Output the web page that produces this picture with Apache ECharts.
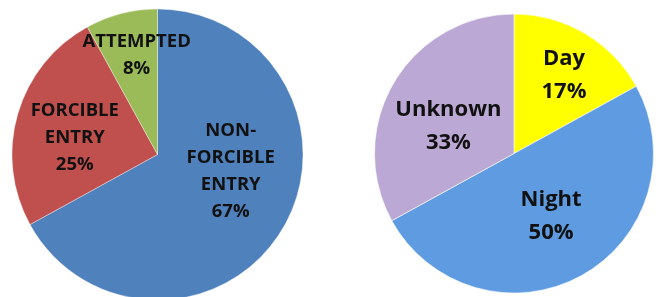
<!DOCTYPE html>
<html>
<head>
<meta charset="utf-8">
<script src="https://cdn.jsdelivr.net/npm/echarts@6/dist/echarts.min.js"></script>
<style>
  html, body { margin: 0; padding: 0; background: #fff; }
  #chart { width: 660px; height: 297px; }
</style>
</head>
<body>
<div id="chart"></div>
<script>
// entry type
var entryNames = ['NON-\nFORCIBLE\nENTRY', 'FORCIBLE\nENTRY', 'ATTEMPTED'];
var entryValues = [67, 25, 8];
var entryColors = ['#4f81bd', '#c0504d', '#9bbb59'];

// time of day
var timeNames = ['Day', 'Night', 'Unknown'];
var timeValues = [17, 50, 33];
var timeColors = ['#ffff00', '#5e9be0', '#bba8d4'];

// nudges from the default "inside" label spot
var entryNudge = [[8, -22], [-10, 4], [-2, -26]];
var timeNudge = [[13, -16], [2, -1], [-3, 10]];

function toData(names, values, colors) {
    return names.map(function (n, i) {
        return {name: n, value: values[i], itemStyle: {color: colors[i]}};
    });
}

var chart = echarts.init(document.getElementById('chart'));
chart.setOption({
    animation: false,
    series: [
        {
            type: 'pie',
            center: [157.5, 154.5],
            radius: [0, 145.5],
            startAngle: 90,
            clockwise: true,
            data: toData(entryNames, entryValues, entryColors),
            itemStyle: {borderColor: 'rgba(255,255,255,0.35)', borderWidth: 1},
            label: {
                position: 'inside',
                formatter: '{b}\n{c}%',
                color: '#111',
                fontFamily: 'Open Sans',
                fontWeight: 'bold',
                fontSize: 18.5,
                lineHeight: 27
            },
            labelLayout: function (p) {
                var d = entryNudge[p.dataIndex];
                return {dx: d[0], dy: d[1]};
            },
            emphasis: {disabled: true}
        },
        {
            type: 'pie',
            center: [514, 153.5],
            radius: [0, 139.5],
            startAngle: 90,
            clockwise: true,
            data: toData(timeNames, timeValues, timeColors),
            itemStyle: {borderColor: 'rgba(255,255,255,0.6)', borderWidth: 1},
            label: {
                position: 'inside',
                formatter: '{b}\n{c}%',
                color: '#111',
                fontFamily: 'Open Sans',
                fontWeight: 'bold',
                fontSize: 22,
                lineHeight: 33
            },
            labelLayout: function (p) {
                var d = timeNudge[p.dataIndex];
                return {dx: d[0], dy: d[1]};
            },
            emphasis: {disabled: true}
        }
    ]
});
</script>
</body>
</html>
